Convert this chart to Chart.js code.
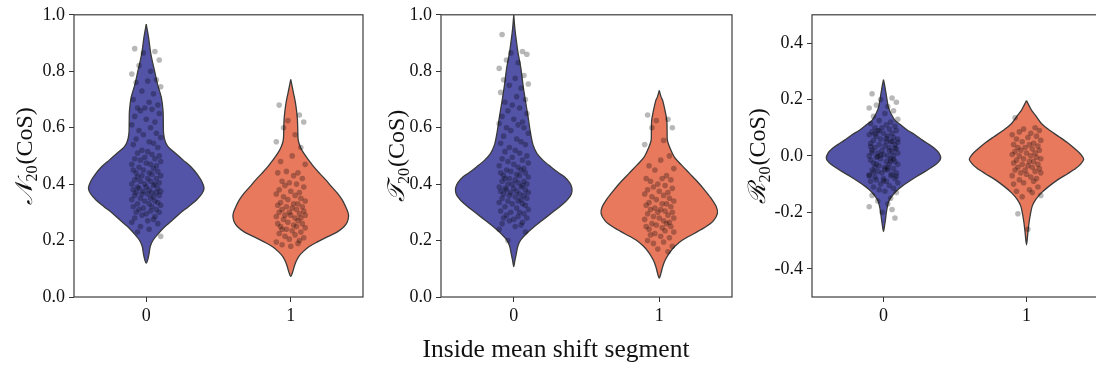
<!DOCTYPE html>
<html><head><meta charset="utf-8">
<script src="https://cdn.jsdelivr.net/npm/chart.js@4/dist/chart.umd.min.js"></script>
<style>
html,body{margin:0;padding:0;background:#fff;}
body{width:1096px;height:369px;overflow:hidden;position:relative;font-family:"Liberation Serif","DejaVu Serif",serif;}
canvas{position:absolute;top:0;}
#xtitle{position:absolute;left:556px;top:336px;transform:translateX(-50%);font-size:25.5px;line-height:1;white-space:nowrap;color:#111;}
</style></head>
<body>
<canvas id="c1" width="370" height="369" style="left:0px"></canvas>
<canvas id="c2" width="370" height="369" style="left:370px"></canvas>
<canvas id="c3" width="372" height="369" style="left:730px"></canvas>
<div id="xtitle">Inside mean shift segment</div>
<script>
// ---------- data ----------
const categories = [0, 1];
const xTickLabels = ["0", "1"];
const yTicksA = [0.0, 0.2, 0.4, 0.6, 0.8, 1.0];
const yTicksB = [-0.4, -0.2, 0.0, 0.2, 0.4];
const yTickLabelsA = ["0.0", "0.2", "0.4", "0.6", "0.8", "1.0"];
const yTickLabelsB = ["-0.4", "-0.2", "0.0", "0.2", "0.4"];

// horizontal jitter offsets of the strip points (category units)
const jitter = [
-0.08,0.06,-0.02,0.09,-0.05,0.03,-0.10,0.07,0.01,-0.07,
0.10,-0.03,0.05,-0.09,0.02,0.08,-0.06,-0.01,0.04,-0.04,
0.09,-0.08,0.00,0.06,-0.10,0.03,-0.05,0.07,-0.02,0.10,
-0.07,0.02,0.05,-0.09,0.08,-0.03,0.01,-0.06,0.04,0.09,
-0.01,-0.08,0.06,-0.04,0.10,0.00,-0.10,0.03,0.07,-0.05,
0.05,-0.02,-0.09,0.08,0.02,-0.07,0.04,0.10,-0.03,-0.06,
0.01,0.07,-0.08,0.03,-0.04,0.09,-0.01,0.06,-0.10,0.05,
-0.06,0.00,0.08,-0.05,0.02,-0.09,0.10,-0.02,0.04,-0.07,
0.07,-0.03,0.01,0.09,-0.08,0.05,-0.04,0.03,-0.10,0.06,
-0.01,0.08,-0.06,0.02,0.10,-0.09,0.04,-0.02,0.07,-0.05,
0.03,-0.07,0.09,0.00,-0.03,0.06,-0.08,0.05,0.01,-0.10,
0.08,-0.04,0.02,-0.06,0.10,-0.01,0.04,-0.09,0.07,-0.02];

// N20 strip values
const n20Seg0 = [0.88,0.87,0.865,0.84,0.82,0.80,0.79,0.77,0.765,0.76,0.745,0.73,0.72,0.70,0.69,0.68,0.67,0.67,0.665,0.66,0.65,0.64,0.63,0.62,0.61,
0.60,0.59,0.58,0.575,0.565,0.56,0.55,0.545,0.54,0.53,0.52,0.515,0.51,0.505,0.50,
0.495,0.49,0.49,0.485,0.48,0.475,0.47,0.47,0.465,0.46,0.455,0.45,0.45,0.445,0.44,0.44,0.435,0.43,0.43,0.425,0.42,0.42,0.415,0.41,0.41,0.405,0.40,0.40,0.40,0.395,0.39,0.39,0.385,0.385,0.38,
0.38,0.375,0.375,0.37,0.37,0.37,0.365,0.365,0.36,0.36,0.355,0.35,0.35,0.345,0.34,0.34,0.335,0.33,0.33,0.325,0.32,0.32,0.315,0.31,0.31,0.305,0.30,0.30,
0.295,0.29,0.285,0.28,0.275,0.27,0.265,0.26,0.25,0.24,0.23,0.215];
const n20Seg1 = [0.68,0.645,0.625,0.62,0.60,0.575,0.55,0.53,0.50,0.48,0.47,0.445,0.44,0.44,0.43,0.42,0.41,0.405,0.40,0.395,0.39,0.38,0.375,0.37,0.365,0.36,0.355,0.35,0.345,0.34,0.335,0.33,0.33,0.325,0.32,0.32,0.315,0.31,0.31,0.305,0.30,0.30,0.295,0.29,0.29,0.29,0.285,0.28,0.28,0.275,0.27,0.265,0.26,0.26,0.255,0.25,0.25,0.245,0.24,0.24,0.235,0.23,0.225,0.22,0.215,0.21,0.205,0.20,0.195,0.19,0.185,0.18];
// T20 strip values
const t20Seg0 = [0.93,0.87,0.865,0.86,0.84,0.83,0.81,0.785,0.775,0.77,0.755,0.75,0.74,0.725,0.71,0.70,0.69,0.68,0.67,0.66,0.65,0.64,0.63,0.62,0.615,0.61,0.60,0.60,
0.59,0.58,0.57,0.56,0.55,0.545,0.54,0.53,0.52,0.515,0.51,0.50,
0.495,0.49,0.485,0.48,0.475,0.47,0.465,0.46,0.455,0.45,0.45,0.445,0.44,0.44,0.435,0.43,0.43,0.425,0.42,0.42,0.415,0.41,0.41,0.405,0.40,0.40,0.40,0.395,0.39,0.39,0.385,0.385,0.38,0.38,
0.375,0.375,0.37,0.37,0.365,0.365,0.36,0.36,0.355,0.35,0.35,0.345,0.34,0.34,0.335,0.33,0.33,0.325,0.32,0.315,0.31,0.305,0.30,0.30,0.295,0.29,0.285,0.28,0.28,0.275,0.27,0.265,0.26,0.255,0.25,0.24,0.23,0.20];
const t20Seg1 = [0.645,0.63,0.625,0.60,0.60,0.555,0.54,0.50,0.485,0.465,0.455,0.45,0.43,0.42,0.42,0.415,0.41,0.40,0.395,0.39,0.385,0.38,0.375,0.37,0.365,0.36,0.355,0.35,0.345,0.34,0.335,0.33,0.33,0.325,0.32,0.315,0.31,0.31,0.305,0.30,0.30,0.295,0.29,0.285,0.28,0.28,0.275,0.27,0.265,0.26,0.26,0.255,0.25,0.25,0.245,0.24,0.235,0.23,0.225,0.22,0.215,0.21,0.20,0.195,0.19,0.18,0.17,0.16];
// R20 strip values
const r20Seg0 = [0.22,0.205,0.20,0.19,0.18,0.175,0.17,0.16,0.15,0.14,0.13,0.125,0.12,0.115,0.11,0.105,0.10,0.10,0.095,0.09,0.09,0.085,0.08,0.08,0.075,0.07,0.07,0.065,0.06,0.06,0.055,0.05,0.05,0.045,0.04,0.04,0.035,0.03,0.03,0.025,0.02,0.02,0.015,0.01,0.01,0.005,0.0,0.0,0.0,-0.005,-0.01,-0.01,-0.015,-0.02,-0.02,-0.025,-0.03,-0.03,-0.035,-0.04,-0.04,-0.045,-0.05,-0.05,-0.055,-0.06,-0.06,-0.065,-0.07,-0.07,-0.075,-0.08,-0.08,-0.085,-0.09,-0.09,-0.095,-0.10,-0.105,-0.11,-0.115,-0.12,-0.125,-0.13,-0.14,-0.15,-0.16,-0.17,-0.18,-0.19,-0.20,-0.22,
0.078,0.062,0.048,0.033,0.018,0.003,-0.012,-0.028,-0.042,-0.058,-0.072,-0.088,0.088,0.052,0.012,-0.018,-0.048,-0.068,0.028,-0.002];
const r20Seg1 = [0.135,0.10,0.095,0.09,0.085,0.08,0.075,0.07,0.065,0.06,0.055,0.05,0.045,0.04,0.04,0.035,0.03,0.03,0.025,0.02,0.02,0.015,0.01,0.01,0.005,0.0,0.0,-0.005,-0.01,-0.01,-0.015,-0.02,-0.02,-0.025,-0.03,-0.03,-0.035,-0.04,-0.04,-0.045,-0.05,-0.05,-0.055,-0.06,-0.06,-0.065,-0.07,-0.075,-0.08,-0.085,-0.09,-0.095,-0.10,-0.11,-0.12,-0.125,-0.13,-0.14,-0.145,-0.205,-0.26];

// violin outlines: y levels and relative half-width (1 = widest)
const n20V0y = [0.967,0.92,0.873,0.84,0.80,0.75,0.708,0.661,0.62,0.579,0.55,0.532,0.51,0.485,0.46,0.438,0.41,0.385,0.365,0.344,0.32,0.296,0.27,0.249,0.225,0.202,0.18,0.155,0.135,0.12];
const n20V0w = [0,0.04,0.07,0.10,0.145,0.20,0.26,0.29,0.295,0.30,0.33,0.38,0.50,0.64,0.78,0.87,0.96,1.0,0.96,0.87,0.73,0.58,0.44,0.32,0.21,0.12,0.07,0.05,0.03,0];
const n20V1y = [0.771,0.74,0.72,0.69,0.661,0.63,0.602,0.555,0.53,0.508,0.485,0.461,0.438,0.414,0.39,0.367,0.344,0.32,0.30,0.285,0.267,0.249,0.23,0.214,0.196,0.179,0.16,0.144,0.125,0.108,0.09,0.073];
const n20V1w = [0,0.03,0.05,0.08,0.10,0.115,0.12,0.13,0.17,0.23,0.31,0.40,0.50,0.61,0.71,0.81,0.89,0.95,0.99,1.0,0.98,0.92,0.80,0.64,0.47,0.32,0.21,0.14,0.09,0.06,0.035,0];
const t20V0y = [1.0,0.96,0.932,0.87,0.814,0.75,0.696,0.64,0.579,0.54,0.508,0.485,0.461,0.44,0.426,0.405,0.385,0.365,0.344,0.32,0.296,0.27,0.249,0.225,0.202,0.18,0.155,0.13,0.108];
const t20V0w = [0,0.015,0.03,0.07,0.12,0.16,0.20,0.245,0.29,0.33,0.40,0.50,0.64,0.77,0.87,0.96,1.0,0.99,0.92,0.79,0.64,0.48,0.35,0.22,0.12,0.07,0.045,0.02,0];
const t20V1y = [0.732,0.71,0.696,0.66,0.626,0.59,0.555,0.525,0.496,0.468,0.438,0.41,0.379,0.35,0.32,0.296,0.27,0.249,0.225,0.202,0.18,0.155,0.13,0.108,0.085,0.067];
const t20V1w = [0,0.03,0.06,0.10,0.13,0.135,0.14,0.19,0.26,0.38,0.52,0.65,0.78,0.89,0.98,1.0,0.93,0.80,0.60,0.40,0.27,0.17,0.10,0.06,0.03,0];
const r20V0y = [0.27,0.245,0.22,0.195,0.173,0.15,0.126,0.11,0.091,0.075,0.056,0.04,0.027,0.01,-0.008,-0.022,-0.037,-0.055,-0.073,-0.09,-0.108,-0.125,-0.143,-0.16,-0.178,-0.2,-0.225,-0.245,-0.268];
const r20V0w = [0,0.025,0.045,0.065,0.085,0.13,0.20,0.30,0.42,0.55,0.68,0.80,0.89,0.97,1.0,0.96,0.87,0.73,0.58,0.45,0.32,0.22,0.145,0.095,0.07,0.05,0.035,0.02,0];
const r20V1y = [0.196,0.18,0.161,0.14,0.115,0.09,0.068,0.045,0.021,0.005,-0.012,-0.028,-0.043,-0.063,-0.084,-0.108,-0.131,-0.155,-0.178,-0.205,-0.236,-0.27,-0.315];
const r20V1w = [0,0.04,0.09,0.17,0.26,0.41,0.57,0.73,0.87,0.95,1.0,0.95,0.87,0.72,0.55,0.39,0.26,0.16,0.10,0.07,0.045,0.025,0];

// ---------- styling ----------
const MAXW = 0.4;
const COLORS = ['#5353a8', '#e8795d'];
const SERIF = '"Liberation Serif","DejaVu Serif",serif';

const framePlugin = {
  id: 'frame',
  afterDraw(chart) {
    const {ctx, chartArea: a} = chart;
    ctx.save();
    ctx.strokeStyle = '#3c3c3c';
    ctx.lineWidth = 1.2;
    ctx.strokeRect(a.left, a.top, a.right - a.left, a.bottom - a.top);
    ctx.restore();
  }
};
const yTitlePlugin = {
  id: 'ytitle',
  afterDraw(chart, args, o) {
    if (!o || !o.sym) return;
    const {ctx, chartArea: a} = chart;
    ctx.save();
    ctx.translate(o.x, (a.top + a.bottom) / 2);
    ctx.rotate(-Math.PI / 2);
    ctx.fillStyle = '#111';
    ctx.textBaseline = 'alphabetic';
    const fMain = '24px ' + SERIF, fSym = 'italic 24px ' + SERIF, fSub = '16px ' + SERIF;
    ctx.font = fSym; const w1 = ctx.measureText(o.sym).width;
    ctx.font = fSub; const w2 = ctx.measureText(o.sub).width;
    ctx.font = fMain; const w3 = ctx.measureText(o.rest).width;
    let x = -(w1 + w2 + w3 + 1) / 2;
    const base = 7;
    ctx.font = fSym; ctx.fillText(o.sym, x, base); x += w1;
    ctx.font = fSub; ctx.fillText(o.sub, x, base + 5); x += w2 + 1;
    ctx.font = fMain; ctx.fillText(o.rest, x, base);
    ctx.restore();
  }
};

function makePanel(id, p) {
  const datasets = [];
  [p.seg0, p.seg1].forEach((vals, c) => {
    datasets.push({
      type: 'scatter',
      data: vals.map((y, i) => ({x: categories[c] + jitter[i % jitter.length], y})),
      backgroundColor: 'rgba(0,0,0,0.28)', borderWidth: 0, pointRadius: 2.8,
      order: 0
    });
  });
  [[p.v0y, p.v0w], [p.v1y, p.v1w]].forEach(([vy, vw], c) => {
    const cx = categories[c];
    const right = vy.map((y, i) => ({x: cx + vw[i] * MAXW, y}));
    const left = vy.map((y, i) => ({x: cx - vw[i] * MAXW, y})).reverse();
    datasets.push({
      type: 'scatter', showLine: true,
      data: right.concat(left.slice(1)),
      backgroundColor: COLORS[c], borderColor: '#3a3a3a', borderWidth: 1.3,
      pointRadius: 0, tension: 0.3, fill: 'shape', order: 1
    });
  });
  const tickFont = {family: SERIF, size: 18};
  return new Chart(document.getElementById(id), {
    type: 'scatter',
    data: {datasets},
    plugins: [framePlugin, yTitlePlugin],
    options: {
      responsive: false, animation: false, devicePixelRatio: 1,
      layout: {padding: {top: 14, right: p.padR, left: 0, bottom: 0}},
      plugins: {legend: {display: false}, tooltip: {enabled: false},
        ytitle: {x: p.titleX, sym: p.sym, sub: '20', rest: '(CoS)'}},
      scales: {
        x: {
          type: 'linear', min: -0.5, max: 1.5,
          afterBuildTicks: s => { s.ticks = categories.map(v => ({value: v})); },
          afterFit: s => { s.height = 72; },
          ticks: {font: tickFont, color: '#111', padding: 3,
            callback: (v) => xTickLabels[categories.indexOf(v)]},
          grid: {display: true, drawOnChartArea: false, drawTicks: true, tickLength: 5, tickColor: '#333', tickWidth: 1},
          border: {display: false}
        },
        y: {
          type: 'linear', min: p.ymin, max: p.ymax,
          afterBuildTicks: s => { s.ticks = p.yTicks.map(v => ({value: v})); },
          afterFit: s => { s.width = p.yW; },
          ticks: {font: tickFont, color: '#111', padding: 4,
            callback: (v) => { const i = p.yTicks.findIndex(t => Math.abs(t - v) < 1e-9); return i >= 0 ? p.yLabels[i] : ''; }},
          grid: {display: true, drawOnChartArea: false, drawTicks: true, tickLength: 5, tickColor: '#333', tickWidth: 1},
          border: {display: false}
        }
      }
    }
  });
}

makePanel('c1', {seg0: n20Seg0, seg1: n20Seg1, v0y: n20V0y, v0w: n20V0w, v1y: n20V1y, v1w: n20V1w,
  ymin: 0, ymax: 1, yTicks: yTicksA, yLabels: yTickLabelsA, yW: 74, padR: 7, titleX: 25, sym: '\u{1D4A9}'});
makePanel('c2', {seg0: t20Seg0, seg1: t20Seg1, v0y: t20V0y, v0w: t20V0w, v1y: t20V1y, v1w: t20V1w,
  ymin: 0, ymax: 1, yTicks: yTicksA, yLabels: yTickLabelsA, yW: 71, padR: 8, titleX: 27, sym: '\u{1D4AF}'});
makePanel('c3', {seg0: r20Seg0, seg1: r20Seg1, v0y: r20V0y, v0w: r20V0w, v1y: r20V1y, v1w: r20V1w,
  ymin: -0.5, ymax: 0.5, yTicks: yTicksB, yLabels: yTickLabelsB, yW: 82, padR: 1, titleX: 28, sym: '\u211B'});
</script>
</body></html>
